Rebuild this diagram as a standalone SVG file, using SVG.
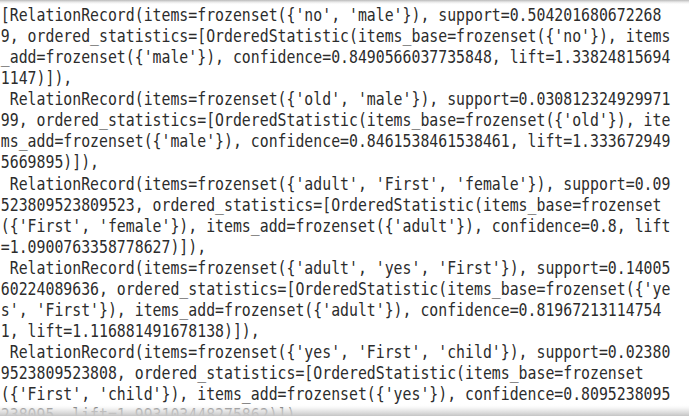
<svg xmlns="http://www.w3.org/2000/svg" width="689" height="416" viewBox="0 0 689 416" xml:space="preserve">
<defs>
<style>
.t{font-family:"DejaVu Sans Mono","Liberation Mono",monospace;font-size:18px;fill:#2c2c2c;white-space:pre;}
</style>
<linearGradient id="gTop" x1="0" y1="0" x2="0" y2="1">
<stop offset="0" stop-color="#b8b8b8" stop-opacity="1"/>
<stop offset="1" stop-color="#ffffff" stop-opacity="0"/>
</linearGradient>
<linearGradient id="gBot" x1="0" y1="0" x2="0" y2="1">
<stop offset="0" stop-color="#ffffff" stop-opacity="0"/>
<stop offset="0.45" stop-color="#e8e8e8" stop-opacity="0.75"/>
<stop offset="1" stop-color="#c4c4c4" stop-opacity="1"/>
</linearGradient>
</defs>
<rect x="0" y="0" width="689" height="416" fill="#ffffff"/>
<g id="output" transform="scale(0.8243,1)">
<text class="t" x="1" y="21">[RelationRecord(items=frozenset({'no', 'male'}), support=0.504201680672268</text>
<text class="t" x="1" y="42.07">9, ordered_statistics=[OrderedStatistic(items_base=frozenset({'no'}), items</text>
<text class="t" x="1" y="63.14">_add=frozenset({'male'}), confidence=0.8490566037735848, lift=1.33824815694</text>
<text class="t" x="1" y="84.21">1147)]),</text>
<text class="t" x="1" y="105.28"> RelationRecord(items=frozenset({'old', 'male'}), support=0.030812324929971</text>
<text class="t" x="1" y="126.35">99, ordered_statistics=[OrderedStatistic(items_base=frozenset({'old'}), ite</text>
<text class="t" x="1" y="147.42">ms_add=frozenset({'male'}), confidence=0.8461538461538461, lift=1.333672949</text>
<text class="t" x="1" y="168.49">5669895)]),</text>
<text class="t" x="1" y="189.56"> RelationRecord(items=frozenset({'adult', 'First', 'female'}), support=0.09</text>
<text class="t" x="1" y="210.63">523809523809523, ordered_statistics=[OrderedStatistic(items_base=frozenset</text>
<text class="t" x="1" y="231.7">({'First', 'female'}), items_add=frozenset({'adult'}), confidence=0.8, lift</text>
<text class="t" x="1" y="252.77">=1.0900763358778627)]),</text>
<text class="t" x="1" y="273.84"> RelationRecord(items=frozenset({'adult', 'yes', 'First'}), support=0.14005</text>
<text class="t" x="1" y="294.91">60224089636, ordered_statistics=[OrderedStatistic(items_base=frozenset({'ye</text>
<text class="t" x="1" y="315.98">s', 'First'}), items_add=frozenset({'adult'}), confidence=0.81967213114754</text>
<text class="t" x="1" y="337.05">1, lift=1.116881491678138)]),</text>
<text class="t" x="1" y="358.12"> RelationRecord(items=frozenset({'yes', 'First', 'child'}), support=0.02380</text>
<text class="t" x="1" y="379.19">9523809523808, ordered_statistics=[OrderedStatistic(items_base=frozenset</text>
<text class="t" x="1" y="400.26">({'First', 'child'}), items_add=frozenset({'yes'}), confidence=0.8095238095</text>
<text class="t" x="1" y="421.33">238095, lift=1.993103448275862)]),</text>
</g>
<rect x="0" y="0" width="689" height="5" fill="url(#gTop)"/>
<rect x="0" y="404" width="689" height="12" fill="url(#gBot)"/>
</svg>
